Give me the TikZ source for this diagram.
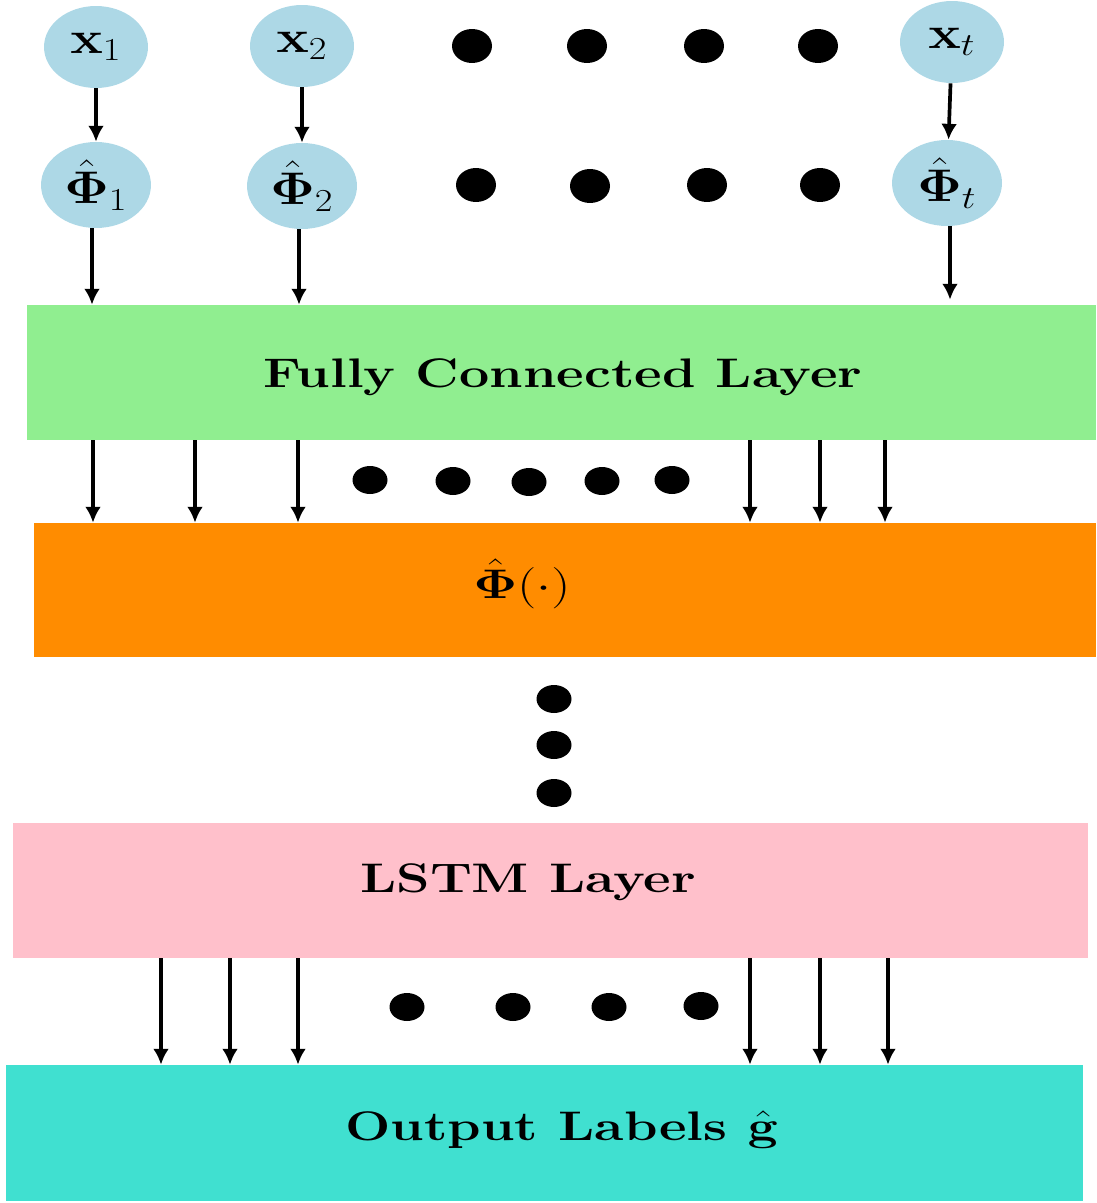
\RequirePackage{fix-cm}
\documentclass[tikz,border=0pt]{standalone}
\usepackage{amsmath,bm}
\usetikzlibrary{shapes.geometric,arrows.meta}
\definecolor{cblue}{HTML}{ADD8E6}
\definecolor{cgreen}{HTML}{90EE90}
\definecolor{corange}{HTML}{FF8C00}
\definecolor{cpink}{HTML}{FFC0CB}
\definecolor{cturq}{HTML}{40E0D0}
\newcommand{\wide}[1]{\scalebox{1.3}[1]{#1}}
\newcommand{\cwide}[1]{\scalebox{1.2}[1]{#1}}
\begin{document}
\begin{tikzpicture}[x=0.02cm,y=-0.02cm,
  inp/.style={ellipse,fill=cblue,minimum width=2.08cm,minimum height=1.64cm,inner sep=0pt,font=\fontsize{26}{30}\selectfont},
  feat/.style={ellipse,fill=cblue,minimum width=2.2cm,minimum height=1.72cm,inner sep=0pt,font=\fontsize{26}{30}\selectfont},
  bigdot/.style={ellipse,fill=black,minimum width=0.8cm,minimum height=0.68cm,inner sep=0pt},
  smdot/.style={ellipse,fill=black,minimum width=0.7cm,minimum height=0.56cm,inner sep=0pt},
  layer/.style={rectangle,inner sep=0pt},
  ltext/.style={anchor=base,inner sep=0pt,font=\fontsize{23.5}{28}\selectfont\bfseries},
  arr/.style={line width=2.1pt,-{Latex[length=9pt,width=9pt]}}]
\useasboundingbox (0,0) rectangle (1096,1203);
% input row
\node[inp] (x1) at (96,47) {\cwide{$\mathbf{x}_1$}};
\node[inp] (x2) at (302,46) {\cwide{$\mathbf{x}_2$}};
\node[inp] (xt) at (952,42) {\cwide{$\mathbf{x}_t$}};
\node[bigdot] (a1) at (472,46) {};
\node[bigdot] (a2) at (587,46) {};
\node[bigdot] (a3) at (704,46) {};
\node[bigdot] (a4) at (818,46) {};
% feature row
\node[feat] (p1) at (96,185) {\cwide{$\hat{\bm{\Phi}}_1$}};
\node[feat] (p2) at (302,186) {\cwide{$\hat{\bm{\Phi}}_2$}};
\node[feat] (pt) at (947,183) {\cwide{$\hat{\bm{\Phi}}_t$}};
\node[bigdot] (b1) at (476,185) {};
\node[bigdot] (b2) at (590,186) {};
\node[bigdot] (b3) at (707,185) {};
\node[bigdot] (b4) at (820,185) {};
% layers
\node[layer,fill=cgreen,minimum width=21.38cm,minimum height=2.7cm] (fc) at (561.5,372.5) {};
\node[ltext] (fct) at (563,387) {\wide{Fully Connected Layer}};
\node[layer,fill=corange,minimum width=21.24cm,minimum height=2.68cm] (ph) at (565,590) {};
\node[ltext] (pht) at (522,598) {\wide{$\hat{\bm{\Phi}}(\cdot)$}};
\node[layer,fill=cpink,minimum width=21.5cm,minimum height=2.7cm] (ls) at (550.5,890.5) {};
\node[ltext] (lst) at (528,892) {\wide{LSTM Layer}};
\node[layer,fill=cturq,minimum width=21.54cm,minimum height=2.72cm] (out) at (544.5,1133) {};
\node[ltext] (outt) at (562,1140) {\wide{Output Labels $\hat{\mathbf{g}}$}};
% dots between layers
\node[smdot] (c1) at (370,480) {};
\node[smdot] (c2) at (453,481) {};
\node[smdot] (c3) at (529,482) {};
\node[smdot] (c4) at (602,481) {};
\node[smdot] (c5) at (672,480) {};
\node[smdot] (v1) at (554,699) {};
\node[smdot] (v2) at (554,745) {};
\node[smdot] (v3) at (554,793) {};
\node[smdot] (e1) at (407,1007) {};
\node[smdot] (e2) at (513,1007) {};
\node[smdot] (e3) at (609,1007) {};
\node[smdot] (e4) at (701,1006) {};
% arrows top
\draw[arr] (x1) -- (p1);
\draw[arr] (x2) -- (p2);
\draw[arr] (xt) -- (pt);
\coordinate (k1) at (92,0);
\coordinate (k2) at (299,0);
\coordinate (k3) at (950,0);
\draw[arr] (p1.south -| k1) -- (fc.north -| k1);
\draw[arr] (p2.south -| k2) -- (fc.north -| k2);
\draw[arr] (pt.south -| k3) -- ([yshift=0.1cm]fc.north -| k3);
% arrows fc -> phi
\foreach \xx [count=\i] in {93,195,298,750,820,885}{
  \coordinate (m\i) at (\xx,0);
  \draw[arr] (fc.south -| m\i) -- (ph.north -| m\i);
}
% arrows lstm -> output
\foreach \xx [count=\i] in {161,230,298,750,820,888}{
  \coordinate (n\i) at (\xx,0);
  \draw[arr] (ls.south -| n\i) -- (out.north -| n\i);
}
\end{tikzpicture}
\end{document}
